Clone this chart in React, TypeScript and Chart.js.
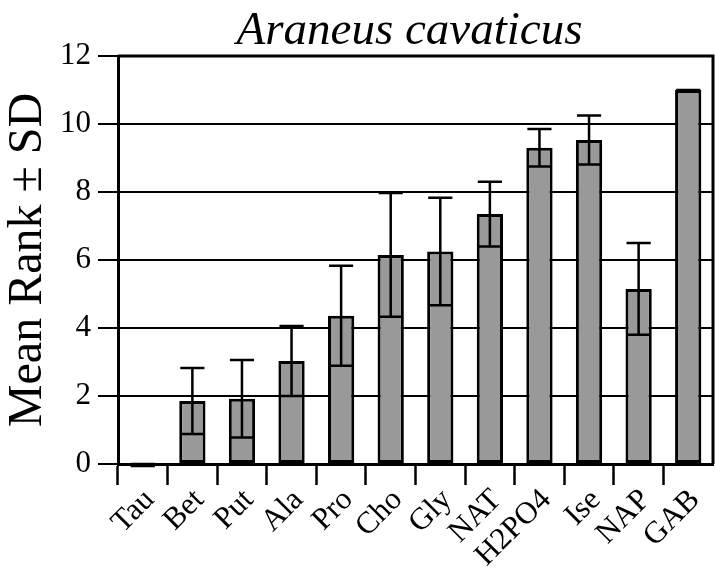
import React, { useEffect, useRef } from 'react';
import { Chart, registerables } from 'chart.js';

Chart.register(...registerables);

const categories = ['Tau', 'Bet', 'Put', 'Ala', 'Pro', 'Cho', 'Gly', 'NAT', 'H2PO4', 'Ise', 'NAP', 'GAB'];
const meanRank = [0, 1.85, 1.92, 3.03, 4.36, 6.15, 6.25, 7.35, 9.3, 9.53, 5.15, 11.0];
const sdRank = [0, 0.97, 1.14, 1.03, 1.47, 1.82, 1.58, 0.95, 0.55, 0.72, 1.35, 0];
const yMin = 0;
const yMax = 12;
const yStep = 2;
const titleText = 'Araneus cavaticus';
const yTitleText = 'Mean Rank ± SD';

const FONT = "'Liberation Serif', 'Times New Roman', serif";

const errorBarsPlugin = {
  id: 'errorBars',
  afterDatasetsDraw(chart: any) {
    const meta = chart.getDatasetMeta(0);
    const yScale = chart.scales.y;
    const ctx = chart.ctx;
    ctx.save();
    ctx.strokeStyle = '#000';
    ctx.lineWidth = 2.5;
    meta.data.forEach((bar: any, i: number) => {
      const m = meanRank[i];
      const s = sdRank[i];
      const yt = yScale.getPixelForValue(m + s);
      const yb = yScale.getPixelForValue(m - s);
      const half = bar.width * 0.46;
      const zeroShift = s === 0 && m === 0 ? 2 : 0;
      ctx.beginPath();
      ctx.moveTo(bar.x, yt);
      ctx.lineTo(bar.x, yb);
      ctx.moveTo(bar.x - half, yt);
      ctx.lineTo(bar.x + half, yt);
      ctx.moveTo(bar.x - half, yb + zeroShift);
      ctx.lineTo(bar.x + half, yb + zeroShift);
      ctx.stroke();
    });
    ctx.restore();
  },
};

const framePlugin = {
  id: 'frameAndTitle',
  afterDraw(chart: any) {
    const { ctx, chartArea } = chart;
    ctx.save();
    ctx.strokeStyle = '#000';
    ctx.lineWidth = 3;
    ctx.beginPath();
    ctx.moveTo(chartArea.left, chartArea.top);
    ctx.lineTo(chartArea.right, chartArea.top);
    ctx.lineTo(chartArea.right, chartArea.bottom);
    ctx.stroke();
    ctx.fillStyle = '#000';
    ctx.font = `italic 47px ${FONT}`;
    ctx.textAlign = 'center';
    ctx.textBaseline = 'alphabetic';
    ctx.fillText(titleText, (chartArea.left + chartArea.right) / 2 - 6, 44);
    ctx.restore();
  },
};

export default function App() {
  const ref = useRef<HTMLCanvasElement>(null);

  useEffect(() => {
    const canvas = ref.current;
    if (!canvas) return;
    const chart = new Chart(canvas, {
      type: 'bar',
      data: {
        labels: categories,
        datasets: [
          {
            data: meanRank,
            backgroundColor: '#999999',
            borderColor: '#000000',
            borderWidth: 3,
            borderSkipped: false,
            barPercentage: 0.53,
            categoryPercentage: 1,
          },
        ],
      },
      options: {
        responsive: false,
        animation: false,
        devicePixelRatio: 1,
        layout: { padding: { top: 56, right: 2, bottom: 0, left: 0 } },
        plugins: {
          legend: { display: false },
          tooltip: { enabled: false },
          title: { display: false },
        },
        scales: {
          x: {
            offset: true,
            grid: {
              offset: true,
              drawOnChartArea: false,
              drawTicks: true,
              tickLength: 21,
              tickWidth: 2.5,
              color: '#000',
              tickColor: (c: any) => (c.type === 'scale' ? 'rgba(0,0,0,0)' : '#000'),
            },
            border: { display: true, color: '#000', width: 3 },
            ticks: {
              autoSkip: false,
              minRotation: 45,
              maxRotation: 45,
              labelOffset: 7,
              padding: -3,
              color: '#000',
              font: { family: FONT, size: 31 },
            },
            afterFit: (scale: any) => {
              scale.height = 107;
              scale.paddingLeft = 0;
              scale.paddingRight = 0;
            },
          },
          y: {
            min: yMin,
            max: yMax,
            ticks: {
              stepSize: yStep,
              padding: 7,
              color: '#000',
              font: { family: FONT, size: 31 },
            },
            grid: {
              color: '#000',
              lineWidth: 2,
              drawTicks: true,
              tickLength: 20,
              tickWidth: 2,
              tickColor: '#000',
            },
            border: { display: true, color: '#000', width: 3 },
            title: {
              display: true,
              text: yTitleText,
              color: '#000',
              padding: { top: 0, bottom: 0 },
              font: { family: FONT, size: 48 },
            },
            afterFit: (scale: any) => {
              scale.width = 118;
            },
          },
        },
      },
      plugins: [errorBarsPlugin, framePlugin],
    } as any);
    return () => chart.destroy();
  }, []);

  return (
    <div style={{ position: 'absolute', left: 0, top: 0, width: 715, height: 571, background: '#fff' }}>
      <canvas ref={ref} width={715} height={571} style={{ display: 'block', width: 715, height: 571 }} />
    </div>
  );
}
